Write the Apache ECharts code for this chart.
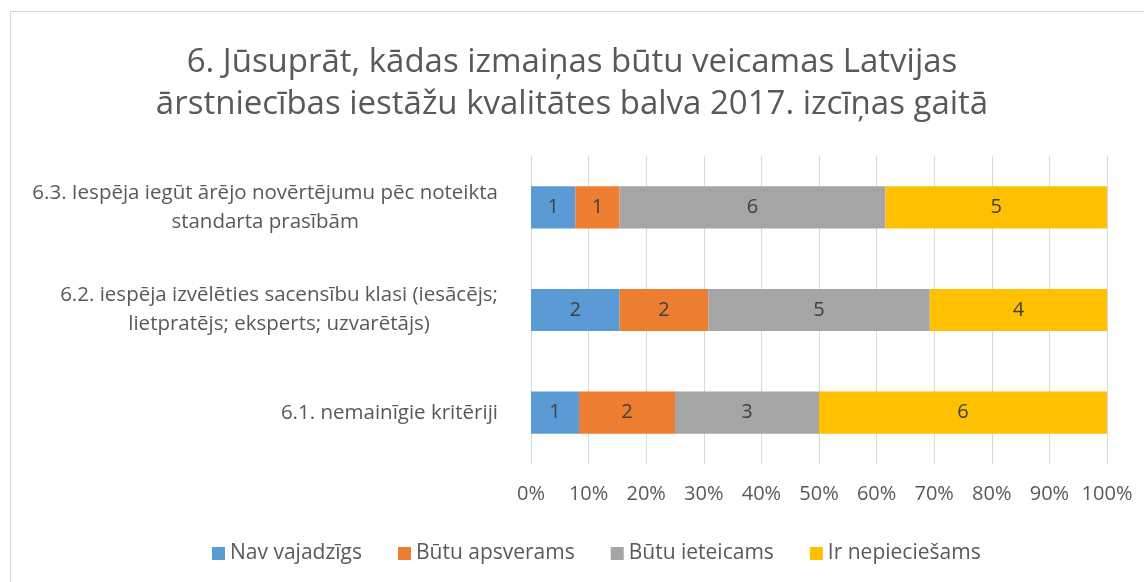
<!DOCTYPE html>
<html>
<head>
<meta charset="utf-8">
<script src="https://cdn.jsdelivr.net/npm/echarts@6/dist/echarts.min.js"></script>
<style>
  html, body { margin: 0; padding: 0; background: #fff; }
  #frame { position: absolute; left: 10px; top: 11px; width: 1200px; height: 640px; border: 1px solid #d9d9d9; box-sizing: border-box; }
  #chart { position: absolute; left: 0; top: 0; width: 1144px; height: 582px; }
</style>
</head>
<body>
<div id="frame"></div>
<div id="chart"></div>
<script>
// categories, bottom to top
var categories = [
  ['6.1. nemainīgie kritēriji'],
  ['6.2. iespēja izvēlēties sacensību klasi (iesācējs;', 'lietpratējs; eksperts; uzvarētājs)'],
  ['6.3. Iespēja iegūt ārējo novērtējumu pēc noteikta', 'standarta prasībām']
];
var seriesNames = ['Nav vajadzīgs', 'Būtu apsverams', 'Būtu ieteicams', 'Ir nepieciešams'];
var navVajadzigs   = [1, 2, 1];
var butuApsverams  = [2, 2, 1];
var butuIeteicams  = [3, 5, 6];
var irNepieciesams = [6, 4, 5];
var colors = ['#5B9BD5', '#ED7D31', '#A5A5A5', '#FFC000'];

var counts = [navVajadzigs, butuApsverams, butuIeteicams, irNepieciesams];
var totals = categories.map(function (c, i) {
  return counts.reduce(function (s, arr) { return s + arr[i]; }, 0);
});

var font = '"Open Sans", sans-serif';
var chart = echarts.init(document.getElementById('chart'));

var series = counts.map(function (arr, k) {
  return {
    name: seriesNames[k],
    type: 'bar',
    stack: 'total',
    barWidth: '41%',
    itemStyle: { color: colors[k] },
    label: {
      show: true,
      position: 'inside',
      color: '#404040',
      fontFamily: font,
      fontSize: 20,
      formatter: function (p) { return arr[p.dataIndex]; }
    },
    data: arr.map(function (v, i) { return v / totals[i] * 100; })
  };
});

chart.setOption({
  animation: false,
  title: {
    text: '6. Jūsuprāt, kādas izmaiņas būtu veicamas Latvijas\nārstniecības iestāžu kvalitātes balva 2017. izcīņas gaitā',
    left: 'center',
    top: 37,
    textStyle: { fontFamily: font, fontSize: 33, fontWeight: 'normal', color: '#595959', lineHeight: 42 }
  },
  legend: {
    data: seriesNames,
    top: 538,
    left: 207,
    itemWidth: 13,
    itemHeight: 13,
    itemGap: 36,
    icon: 'rect',
    textStyle: { fontFamily: font, fontSize: 21, color: '#595959' }
  },
  grid: { left: 531, right: 37, top: 156, bottom: 118 },
  xAxis: {
    type: 'value',
    min: 0,
    max: 100,
    interval: 10,
    axisLine: { show: false },
    axisTick: { show: false },
    splitLine: { lineStyle: { color: '#d9d9d9', width: 1 } },
    axisLabel: {
      margin: 20,
      fontFamily: font,
      fontSize: 20,
      color: '#595959',
      formatter: '{value}%'
    }
  },
  yAxis: {
    type: 'category',
    data: categories.map(function (c) { return c.join('\n'); }),
    axisLine: { show: false },
    axisTick: { show: false },
    axisLabel: {
      margin: 33,
      fontFamily: font,
      fontSize: 20.5,
      color: '#595959',
      lineHeight: 29,
      formatter: function (v) {
        return v.split('\n').map(function (l) { return '{c|' + l + '}'; }).join('\n');
      },
      rich: { c: { align: 'center', fontFamily: font, fontSize: 20.5, color: '#595959', lineHeight: 29 } }
    }
  },
  series: series
});
</script>
</body>
</html>
